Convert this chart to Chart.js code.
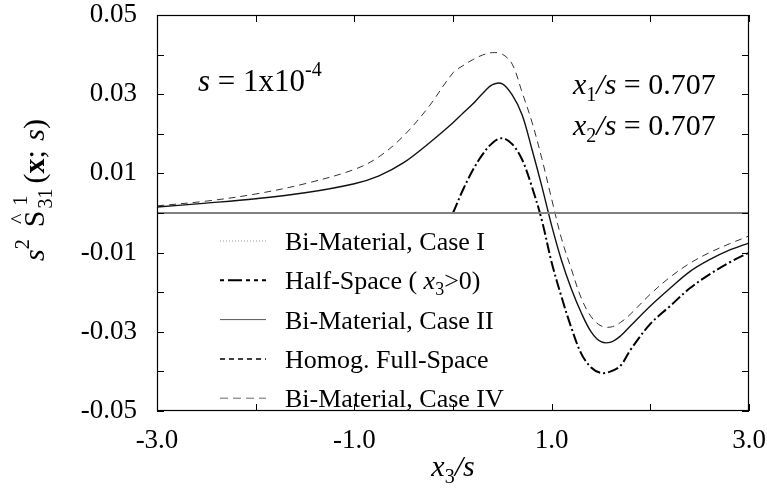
<!DOCTYPE html>
<html lang="en">
<head>
<meta charset="utf-8">
<title>s2 S31 vs x3/s</title>
<script src="https://cdn.jsdelivr.net/npm/chart.js@4.4.0/dist/chart.umd.min.js"></script>
<style>
  html, body { margin: 0; padding: 0; background: #fff; overflow: hidden; }
  #cv { display: block; }
</style>
</head>
<body>
<canvas id="cv" width="767" height="497"></canvas>
<script>
// x3/s positions (shared by all curves)
const x3 = [-3, -2.5, -2, -1.5, -1, -0.75, -0.5, -0.25, 0, 0.1, 0.2, 0.3, 0.4, 0.5, 0.6, 0.7, 0.8, 0.9,
            1.0, 1.1, 1.2, 1.3, 1.4, 1.5, 1.6, 1.7, 1.8, 2.0, 2.2, 2.4, 2.6, 2.8, 3.0];

// values
const caseI  = x3.map(() => 0);   // lies on the zero line
const homog  = x3.map(() => 0);   // lies on the zero line
const caseII = [0.0015, 0.0025, 0.0036, 0.0051, 0.0074, 0.0094, 0.0127, 0.0175, 0.0228, 0.0252, 0.0275, 0.0302,
                0.0324, 0.0326, 0.0298, 0.0248, 0.0161, 0.0068, -0.0032, -0.0120, -0.0192, -0.0252, -0.0300,
                -0.0325, -0.0326, -0.0310, -0.0285, -0.0235, -0.0190, -0.0148, -0.0118, -0.0094, -0.0076];
const caseIV = [0.0018, 0.0030, 0.0048, 0.0074, 0.0110, 0.0142, 0.0195, 0.0267, 0.0354, 0.0372, 0.0387, 0.0399,
                0.0405, 0.0401, 0.0376, 0.0305, 0.0230, 0.0138, 0.0035, -0.0065, -0.0142, -0.0215, -0.0262,
                -0.0285, -0.0288, -0.0276, -0.0255, -0.0205, -0.0162, -0.0127, -0.0100, -0.0078, -0.0058];
// half-space only defined for x3 > 0
const halfSpace = [null, null, null, null, null, null, null, null,
                0, 0.0058, 0.0108, 0.0148, 0.0177, 0.0189, 0.0174, 0.0135, 0.0066, -0.0018, -0.0125, -0.0212,
                -0.0290, -0.0355, -0.0390, -0.0404, -0.0400, -0.0385, -0.0345, -0.0280, -0.0235, -0.0190,
                -0.0155, -0.0125, -0.0100];

const seriesLabels = ['Bi-Material, Case I', 'Half-Space ( x3>0)', 'Bi-Material, Case II',
                      'Homog. Full-Space', 'Bi-Material, Case IV'];

const SERIF = '"Liberation Serif", "DejaVu Serif", serif';

function pts(arr) { return x3.map((x, i) => ({ x: x, y: arr[i] })); }

// draw a list of text runs one after another
function runs(ctx, x, y, parts) {
  parts.forEach(p => {
    ctx.font = p.font;
    ctx.fillText(p.t, x, y + (p.dy || 0));
    x += ctx.measureText(p.t).width + (p.gap || 0);
  });
  return x;
}
function runsWidth(ctx, parts) {
  let w = 0;
  parts.forEach(p => { ctx.font = p.font; w += ctx.measureText(p.t).width + (p.gap || 0); });
  return w;
}

// inward ticks on all four sides + frame
const frame = {
  id: 'frame',
  afterDraw(chart) {
    const ctx = chart.ctx, a = chart.chartArea, sx = chart.scales.x, sy = chart.scales.y;
    ctx.save();
    ctx.strokeStyle = '#000';
    ctx.lineWidth = 1.2;
    ctx.strokeRect(a.left + 0.5, a.top + 0.5, a.right - a.left - 1, a.bottom - a.top - 1);
    ctx.lineWidth = 1;
    ctx.beginPath();
    for (let v = -3; v <= 3; v += 1) {
      const px = Math.round(sx.getPixelForValue(v)) + 0.5;
      ctx.moveTo(px, a.bottom); ctx.lineTo(px, a.bottom - 7);
      ctx.moveTo(px, a.top); ctx.lineTo(px, a.top + 7);
    }
    for (let k = -5; k <= 5; k++) {
      const py = Math.round(sy.getPixelForValue(k / 100)) + 0.5;
      ctx.moveTo(a.left, py); ctx.lineTo(a.left + 7, py);
      ctx.moveTo(a.right, py); ctx.lineTo(a.right - 7, py);
    }
    ctx.stroke();
    ctx.restore();
  }
};

// legend, annotations and axis titles
const texts = {
  id: 'texts',
  afterDraw(chart) {
    const ctx = chart.ctx;
    const R = s => s + 'px ' + SERIF;
    const I = s => 'italic ' + s + 'px ' + SERIF;
    const B = s => 'bold ' + s + 'px ' + SERIF;
    ctx.save();
    ctx.fillStyle = '#000';
    ctx.textBaseline = 'alphabetic';
    ctx.textAlign = 'left';

    // legend
    [0, 1, 2, 3, 4].forEach((di, row) => {
      const ds = chart.data.datasets[di];
      const y = 241 + row * 39.3;
      ctx.save();
      ctx.strokeStyle = ds.legendColor || ds.borderColor;
      ctx.lineWidth = ds.legendWidth || ds.borderWidth;
      ctx.setLineDash(ds.legendDash || ds.borderDash || []);
      ctx.beginPath();
      ctx.moveTo(220, y); ctx.lineTo(266, y);
      ctx.stroke();
      ctx.restore();
      const base = y + 9;
      if (seriesLabels[di].indexOf('x3') >= 0) {
        const sp = seriesLabels[di].split('x3');
        runs(ctx, 285, base, [
          { t: sp[0], font: R(26) }, { t: 'x', font: I(26) },
          { t: '3', font: R(18), dy: 6 }, { t: sp[1], font: R(26) }]);
      } else {
        ctx.font = R(26);
        ctx.fillText(seriesLabels[di], 285, base);
      }
    });

    // annotations
    runs(ctx, 198, 91, [
      { t: 's', font: I(31) }, { t: ' = 1x10', font: R(31) }, { t: '-4', font: R(20), dy: -15 }]);
    runs(ctx, 573, 94, [
      { t: 'x', font: I(30) }, { t: '1', font: R(20), dy: 7 }, { t: '/s', font: I(30) },
      { t: ' = 0.707', font: R(30) }]);
    runs(ctx, 573, 135, [
      { t: 'x', font: I(30) }, { t: '2', font: R(20), dy: 7 }, { t: '/s', font: I(30) },
      { t: ' = 0.707', font: R(30) }]);

    // x axis title
    const xt = [{ t: 'x', font: I(30) }, { t: '3', font: R(20), dy: 7 }, { t: '/s', font: I(30) }];
    const xc = (chart.chartArea.left + chart.chartArea.right) / 2;
    runs(ctx, xc - runsWidth(ctx, xt) / 2, 476, xt);

    // y axis title, rotated
    ctx.translate(44, 190);
    ctx.rotate(-Math.PI / 2);
    const head = [{ t: 's', font: I(30) }, { t: '2', font: R(20), dy: -15, gap: 12 }];
    const tail = [{ t: '(', font: R(30) }, { t: 'x', font: B(30) }, { t: '; ', font: R(30), gap: 2 },
                  { t: 's', font: I(30) }, { t: ')', font: R(30) }];
    ctx.font = R(30);
    const wS = ctx.measureText('S').width;
    ctx.font = R(20);
    const wSub = ctx.measureText('31').width + 5;
    const total = runsWidth(ctx, head) + wS + 2 + wSub + runsWidth(ctx, tail);
    let x = -total / 2;
    x = runs(ctx, x, 0, head);
    ctx.font = R(30);
    ctx.fillText('S', x, 0);
    ctx.font = R(22);
    ctx.textAlign = 'center';
    ctx.fillText('^', x + wS / 2, -19);
    ctx.textAlign = 'left';
    x += wS + 2;
    ctx.font = R(20);
    ctx.fillText('1', x + 3, -17);
    ctx.fillText('31', x, 8);
    x += wSub;
    runs(ctx, x, 0, tail);
    ctx.restore();
  }
};

const ctx = document.getElementById('cv');
new Chart(ctx, {
  type: 'line',
  data: {
    datasets: [
      { label: seriesLabels[0], data: pts(caseI), borderColor: '#808080', borderWidth: 2,
        borderDash: [], legendDash: [1, 2], legendColor: '#999', legendWidth: 1 },
      { label: seriesLabels[1], data: pts(halfSpace), borderColor: '#000', borderWidth: 2,
        borderDash: [11, 3, 2, 3], legendDash: [4, 4, 14, 4, 4, 4], spanGaps: false },
      { label: seriesLabels[2], data: pts(caseII), borderColor: '#111', borderWidth: 1.4,
        legendColor: '#555', legendWidth: 1 },
      { label: seriesLabels[3], data: pts(homog), borderColor: '#808080', borderWidth: 1.5,
        borderDash: [5, 4], legendDash: [5, 4], legendColor: '#000' },
      { label: seriesLabels[4], data: pts(caseIV), borderColor: '#333', borderWidth: 1,
        borderDash: [7, 5], legendDash: [8, 5], legendColor: '#666' }
    ]
  },
  options: {
    responsive: false,
    animation: false,
    events: [],
    layout: { padding: { left: 0, right: 18, top: 15, bottom: 0 } },
    elements: {
      point: { radius: 0 },
      line: { tension: 0.35, fill: false }
    },
    plugins: { legend: { display: false }, tooltip: { enabled: false } },
    scales: {
      x: {
        type: 'linear', min: -3, max: 3,
        grid: { display: false }, border: { display: false },
        afterFit(s) { s.height = 86; s.paddingLeft = 0; s.paddingRight = 0; },
        ticks: {
          stepSize: 1, padding: 6, color: '#000', maxRotation: 0,
          font: { family: SERIF, size: 27 },
          callback: v => (Math.round(v) % 2 !== 0) ? v.toFixed(1) : ''
        }
      },
      y: {
        min: -0.05, max: 0.05,
        grid: { display: false }, border: { display: false },
        afterFit(s) { s.width = 157; s.paddingTop = 0; s.paddingBottom = 0; },
        ticks: {
          stepSize: 0.01, padding: 12, color: '#000',
          font: { family: SERIF, size: 27 },
          callback: v => (Math.abs(Math.round(v * 100)) % 2 === 1) ? v.toFixed(2) : ''
        }
      }
    }
  },
  plugins: [frame, texts]
});
</script>
</body>
</html>
